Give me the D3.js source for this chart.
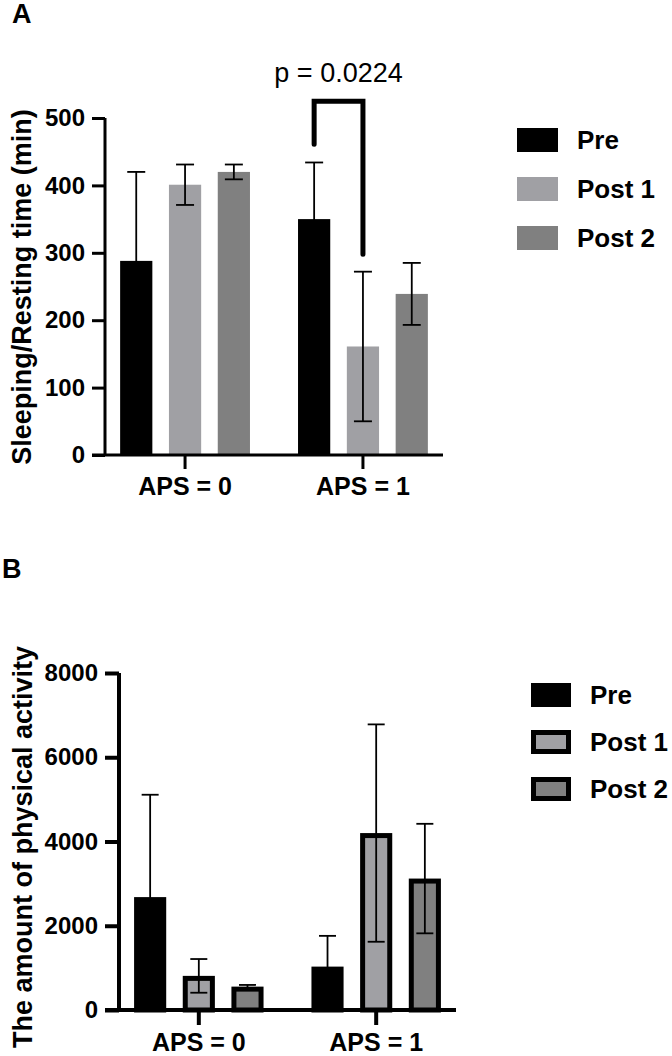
<!DOCTYPE html>
<html>
<head>
<meta charset="utf-8">
<script src="https://cdn.jsdelivr.net/npm/d3@7"></script>
<style>
  body { margin: 0; background: #fff; }
  svg { display: block; font-family: "Liberation Sans", Arial, Helvetica, sans-serif; }
</style>
</head>
<body>
<script>
// data
var groups = ["APS = 0", "APS = 1"];
var phases = ["Pre", "Post 1", "Post 2"];
var phaseColors = ["#000000", "#a0a0a4", "#808080"];

// panel A - sleeping/resting time (min), mean and SD
var sleepMean = [[288, 401, 420], [350, 161, 239]];
var sleepErr  = [[132, 30, 11], [84, 111, 46]];
var sleepTicks = [0, 100, 200, 300, 400, 500];

// panel B - amount of physical activity
var activityMean = [[2680, 810, 555], [1030, 4200, 3120]];
var activityErr  = [[2430, 400, 40], [730, 2580, 1300]];
var activityTicks = [0, 2000, 4000, 6000, 8000];

var pLabel = "p = 0.0224";

var W = 672, H = 1056;
var svg = d3.select("body").append("svg")
    .attr("width", W)
    .attr("height", H);

function drawPanel(opt) {
  var g = svg.append("g");

  var y = d3.scaleLinear().domain(opt.yDomain).range([opt.y0, opt.y1]);
  var x0 = d3.scaleBand().domain(groups).range([opt.xLeft, opt.xRight]).paddingInner(0.1).paddingOuter(0);
  var x1 = d3.scaleBand().domain(phases).range([0, x0.bandwidth()]).paddingInner(0.34).paddingOuter(0.31);

  // panel letter
  g.append("text")
    .attr("x", opt.letterX).attr("y", opt.letterY)
    .style("font-size", "27px").style("font-weight", "bold")
    .text(opt.letter);

  // bars
  var rows = [];
  groups.forEach(function(grp, gi) {
    phases.forEach(function(ph, pi) {
      rows.push({group: grp, phase: ph, pi: pi, mean: opt.mean[gi][pi], err: opt.err[gi][pi]});
    });
  });

  var sw = opt.barStroke;
  g.selectAll("rect.bar")
    .data(rows)
    .enter()
    .append("rect")
    .attr("class", "bar")
    .attr("x", function(d) { return x0(d.group) + x1(d.phase) + sw / 2; })
    .attr("y", function(d) { return y(d.mean) + sw / 2; })
    .attr("width", x1.bandwidth() - sw)
    .attr("height", function(d) { return Math.max(0, y(0) - y(d.mean) - sw / 2); })
    .attr("fill", function(d) { return phaseColors[d.pi]; })
    .attr("stroke", sw > 0 ? "#000" : "none")
    .attr("stroke-width", sw);

  // error bars
  var cap = opt.capWidth;
  var eb = g.selectAll("g.err")
    .data(rows)
    .enter()
    .append("g")
    .attr("class", "err")
    .attr("stroke", "#000")
    .attr("stroke-width", 1.8);
  eb.append("line")
    .attr("x1", function(d) { return x0(d.group) + x1(d.phase) + x1.bandwidth() / 2; })
    .attr("x2", function(d) { return x0(d.group) + x1(d.phase) + x1.bandwidth() / 2; })
    .attr("y1", function(d) { return y(d.mean + d.err); })
    .attr("y2", function(d) { return y(Math.max(0, d.mean - d.err)); });
  [1, -1].forEach(function(s) {
    eb.append("line")
      .attr("x1", function(d) { return x0(d.group) + x1(d.phase) + x1.bandwidth() / 2 - cap / 2; })
      .attr("x2", function(d) { return x0(d.group) + x1(d.phase) + x1.bandwidth() / 2 + cap / 2; })
      .attr("y1", function(d) { return y(Math.max(0, d.mean + s * d.err)); })
      .attr("y2", function(d) { return y(Math.max(0, d.mean + s * d.err)); });
  });

  // y axis
  var yAxis = g.append("g")
    .attr("transform", "translate(" + opt.xLeft + ",0)")
    .call(d3.axisLeft(y).tickValues(opt.ticks).tickFormat(d3.format("d"))
      .tickSizeOuter(0).tickSize(opt.tickLen).tickPadding(7));
  yAxis.select(".domain").attr("stroke-width", opt.axisW)
    .attr("d", "M0," + opt.y0 + "V" + opt.y1);
  yAxis.selectAll(".tick line").attr("stroke-width", opt.axisW);
  yAxis.selectAll("text")
    .style("font-size", "24px").style("font-weight", "bold").attr("fill", "#000")
    .attr("font-family", null);

  // x axis
  var xAxis = g.append("g")
    .attr("transform", "translate(0," + opt.y0 + ")")
    .call(d3.axisBottom(x0).tickSizeOuter(0).tickSize(opt.tickLen + 1).tickPadding(8));
  xAxis.select(".domain").attr("stroke-width", opt.axisW)
    .attr("d", "M" + (opt.xLeft - opt.tickLen) + ",0H" + opt.xRight);
  xAxis.selectAll(".tick line").attr("stroke-width", opt.axisW);
  xAxis.selectAll("text")
    .style("font-size", "25px").style("font-weight", "bold").attr("fill", "#000")
    .attr("font-family", null);

  // y title
  g.append("text")
    .attr("transform", "translate(" + opt.titleX + "," + opt.titleY + ")rotate(-90)")
    .attr("text-anchor", "middle")
    .style("font-size", "27px").style("font-weight", "bold")
    .text(opt.title);

  // legend
  var lg = g.selectAll("g.leg")
    .data(phases)
    .enter()
    .append("g")
    .attr("class", "leg")
    .attr("transform", function(d, i) { return "translate(" + opt.legX + "," + (opt.legY + i * opt.legStep) + ")"; });
  lg.append("rect")
    .attr("x", sw / 2).attr("y", sw / 2)
    .attr("width", opt.legW - sw).attr("height", 24 - sw)
    .attr("fill", function(d, i) { return phaseColors[i]; })
    .attr("stroke", sw > 0 ? "#000" : "none")
    .attr("stroke-width", sw);
  lg.append("text")
    .attr("x", opt.legTextX).attr("y", 21)
    .style("font-size", "26px").style("font-weight", "bold")
    .text(function(d) { return d; });

  return {x0: x0, x1: x1, y: y, g: g};
}

var A = drawPanel({
  letter: "A", letterX: 12, letterY: 23,
  yDomain: [0, 500], y0: 455, y1: 118,
  xLeft: 105, xRight: 443,
  mean: sleepMean, err: sleepErr, ticks: sleepTicks,
  barStroke: 0, capWidth: 18, axisW: 3, tickLen: 13,
  title: "Sleeping/Resting time (min)", titleX: 31, titleY: 287,
  legX: 517, legY: 128, legStep: 49, legW: 41, legTextX: 60
});

var B = drawPanel({
  letter: "B", letterX: 2, letterY: 578,
  yDomain: [0, 8000], y0: 1010, y1: 673,
  xLeft: 119, xRight: 456,
  mean: activityMean, err: activityErr, ticks: activityTicks,
  barStroke: 5, capWidth: 17, axisW: 4, tickLen: 14,
  title: "The amount of physical activity", titleX: 32, titleY: 847,
  legX: 531, legY: 683, legStep: 47, legW: 40, legTextX: 59
});

// significance bracket between Pre and Post 1 in APS = 1 (panel A)
var bx1 = A.x0("APS = 1") + A.x1("Pre") + A.x1.bandwidth() / 2;
var bx2 = A.x0("APS = 1") + A.x1("Post 1") + A.x1.bandwidth() / 2;
var bTop = A.y(525), bLeft = A.y(461), bRight = A.y(298);
A.g.append("path")
  .attr("d", "M" + bx1 + "," + bLeft + "V" + bTop + "H" + bx2 + "V" + bRight)
  .attr("fill", "none")
  .attr("stroke", "#000")
  .attr("stroke-width", 5)
  .attr("stroke-linecap", "round")
  .attr("stroke-linejoin", "miter");
A.g.append("text")
  .attr("x", (bx1 + bx2) / 2)
  .attr("y", 82)
  .attr("text-anchor", "middle")
  .style("font-size", "27px")
  .text(pLabel);
</script>
</body>
</html>
